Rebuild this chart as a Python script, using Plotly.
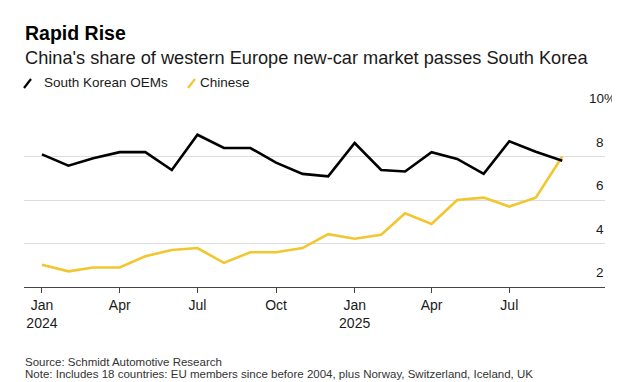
import plotly.graph_objects as go

months = ["2024-01-01","2024-02-01","2024-03-01","2024-04-01","2024-05-01","2024-06-01",
          "2024-07-01","2024-08-01","2024-09-01","2024-10-01","2024-11-01","2024-12-01",
          "2025-01-01","2025-02-01","2025-03-01","2025-04-01","2025-05-01","2025-06-01",
          "2025-07-01","2025-08-01","2025-09-01"]
south_korean = [8.1, 7.58, 7.92, 8.2, 8.2, 7.38, 9.0, 8.39, 8.39, 7.72, 7.2, 7.09,
                8.62, 7.38, 7.31, 8.2, 7.89, 7.2, 8.7, 8.22, 7.8]
chinese = [3.02, 2.72, 2.9, 2.9, 3.41, 3.7, 3.79, 3.11, 3.6, 3.6, 3.79, 4.43,
           4.22, 4.4, 5.39, 4.9, 6.0, 6.11, 5.7, 6.11, 8.0]
x_tickvals = ["2024-01-01","2024-04-01","2024-07-01","2024-10-01","2025-01-01","2025-04-01","2025-07-01"]
x_ticktext = ["Jan<br>2024","Apr","Jul","Oct","Jan<br>2025","Apr","Jul"]
y_tickvals = [2, 4, 6, 8, 10]
y_ticktext = ["2", "4", "6", "8", "10"]

BLACK = "#000000"
YELLOW = "#F2C62F"
FONT = "Liberation Sans, Arial, sans-serif"

W, H = 620, 382
L, R, T, B = 16, 23, 105, 103
pw, ph = W - L - R, H - T - B

def px(x):
    return (x - L) / pw

def py(y):
    return 1 - (y - T) / ph

fig = go.Figure()
fig.add_trace(go.Scatter(x=months, y=chinese, mode="lines", name="Chinese",
                         line=dict(color=YELLOW, width=2.6), hoverinfo="skip"))
fig.add_trace(go.Scatter(x=months, y=south_korean, mode="lines", name="South Korean OEMs",
                         line=dict(color=BLACK, width=2.6), hoverinfo="skip"))

annotations = [
    dict(text="<b>Rapid Rise</b>", x=px(15), y=py(25), xanchor="left", yanchor="middle",
         font=dict(size=19.5, color="#000000", family=FONT)),
    dict(text="China's share of western Europe new-car market passes South Korea", x=px(15), y=py(50),
         xanchor="left", yanchor="middle", font=dict(size=18.2, color="#1a1a1a", family=FONT)),
    dict(text="South Korean OEMs", x=px(34), y=py(75), xanchor="left", yanchor="middle",
         font=dict(size=13.5, color="#1a1a1a", family=FONT)),
    dict(text="Chinese", x=px(190), y=py(75), xanchor="left", yanchor="middle",
         font=dict(size=13.5, color="#1a1a1a", family=FONT)),
    dict(text="Source: Schmidt Automotive Research", x=px(15), y=py(353.5), xanchor="left", yanchor="middle",
         font=dict(size=11.5, color="#333333", family=FONT)),
    dict(text="Note: Includes 18 countries: EU members since before 2004, plus Norway, Switzerland, Iceland, UK",
         x=px(15), y=py(366), xanchor="left", yanchor="middle",
         font=dict(size=11.5, color="#333333", family=FONT)),
]
for v, t in zip(y_tickvals, y_ticktext):
    label = t + "%" if v == 10 else t
    annotations.append(dict(text=label, x=1, xref="paper", y=v, yref="y", xanchor="right",
                            yanchor="bottom", yshift=5, xshift=(13 if v == 10 else 1), showarrow=False,
                            font=dict(size=13.5, color="#1a1a1a", family=FONT)))
for a in annotations:
    a.setdefault("xref", "paper")
    a.setdefault("yref", "paper")
    a.setdefault("showarrow", False)

shapes = [
    dict(type="line", xref="paper", yref="paper", x0=px(16), y0=py(80), x1=px(23), y1=py(71),
         line=dict(color=BLACK, width=2.2)),
    dict(type="line", xref="paper", yref="paper", x0=px(180), y0=py(80), x1=px(187), y1=py(71),
         line=dict(color=YELLOW, width=2.2)),
]

fig.update_layout(
    width=W, height=H, margin=dict(l=L, r=R, t=T, b=B),
    paper_bgcolor="white", plot_bgcolor="white", showlegend=False,
    annotations=annotations, shapes=shapes,
    xaxis=dict(type="date", range=["2023-12-11", "2025-10-21"], tickvals=x_tickvals, ticktext=x_ticktext,
               showgrid=False, zeroline=False, showline=True, linecolor="#444444", linewidth=1,
               ticks="outside", ticklen=5, tickcolor="#444444", tickwidth=1,
               tickfont=dict(size=14, color="#1a1a1a", family=FONT), fixedrange=True),
    yaxis=dict(range=[2, 10], tickvals=y_tickvals, showticklabels=False, showgrid=True,
               gridcolor="#dddddd", gridwidth=1, zeroline=False, showline=False, ticks="", fixedrange=True),
)

fig.write_html("out.html")
